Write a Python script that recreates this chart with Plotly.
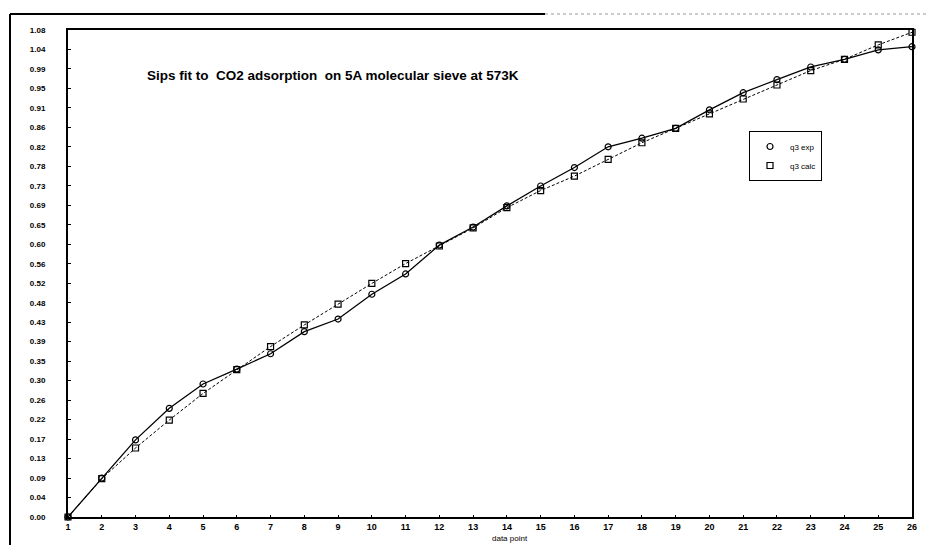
import plotly.graph_objects as go

# ---- data ----
data_point = list(range(1, 27))
q3_exp = [0.000, 0.086, 0.171, 0.241, 0.295, 0.328, 0.362, 0.411, 0.439, 0.494,
          0.539, 0.603, 0.643, 0.690, 0.734, 0.775, 0.821, 0.840, 0.862, 0.903,
          0.941, 0.970, 0.998, 1.015, 1.036, 1.043]
q3_calc = [0.000, 0.085, 0.153, 0.215, 0.274, 0.327, 0.378, 0.426, 0.472, 0.518,
           0.562, 0.601, 0.641, 0.686, 0.724, 0.756, 0.793, 0.830, 0.862, 0.894,
           0.927, 0.958, 0.990, 1.015, 1.047, 1.075]
y_max = 1.08
n_y_intervals = 25
series_names = ["q3 exp", "q3 calc"]
title_text = "Sips fit to  CO2 adsorption  on 5A molecular sieve at 573K"
x_title = "data point"

FONT = "Liberation Sans, Arial, sans-serif"

# page body offset (default html body margin)
OFF = 8
# desired plot area in screen pixels
SX0, SX1, SY0, SY1 = 68, 912, 30, 517
Wf, Hf = 936 - OFF, 545 - OFF
L = SX0 - OFF
R = Wf - (SX1 - OFF)
T = SY0 - OFF
B = Hf - (SY1 - OFF)
pw, ph = SX1 - SX0, SY1 - SY0


def px_x(p):
    return (p - SX0) / pw


def px_y(p):
    return (SY1 - p) / ph


fig = go.Figure()
fig.add_trace(go.Scatter(
    x=data_point, y=q3_exp, name=series_names[0], mode="lines+markers",
    line=dict(color="black", width=1.3),
    marker=dict(symbol="circle-open", size=6, color="black", line=dict(width=1.2)),
    cliponaxis=False, showlegend=False,
))
fig.add_trace(go.Scatter(
    x=data_point, y=q3_calc, name=series_names[1], mode="lines+markers",
    line=dict(color="black", width=1, dash="3px,2px"),
    marker=dict(symbol="square-open", size=6, color="black", line=dict(width=1.2)),
    cliponaxis=False, showlegend=False,
))
# legend entries (markers only, like the reference legend)
fig.add_trace(go.Scatter(
    x=[None], y=[None], name=series_names[0], mode="markers",
    marker=dict(symbol="circle-open", size=6, color="black", line=dict(width=1.2)),
))
fig.add_trace(go.Scatter(
    x=[None], y=[None], name=series_names[1], mode="markers",
    marker=dict(symbol="square-open", size=6, color="black", line=dict(width=1.2)),
))

fig.update_layout(
    width=Wf, height=Hf,
    margin=dict(l=L, r=R, t=T, b=B),
    paper_bgcolor="white", plot_bgcolor="white",
    font=dict(family=FONT, color="black", size=9),
    showlegend=True,
    legend=dict(
        x=px_x(749), y=px_y(131), xanchor="left", yanchor="top",
        bordercolor="black", borderwidth=1, bgcolor="white",
        font=dict(size=8, family=FONT), itemwidth=30, tracegroupgap=0,
    ),
    xaxis=dict(
        range=[1, 26], tickmode="array", tickvals=data_point,
        ticktext=[str(v) for v in data_point],
        showline=True, linecolor="black", linewidth=2, mirror=True,
        showgrid=False, zeroline=False, ticks="inside", ticklen=2,
        tickcolor="black",
        tickfont=dict(size=9, family=FONT, weight="bold"),
    ),
    yaxis=dict(
        range=[0, y_max], tick0=0, dtick=y_max / n_y_intervals, tickformat=".2f",
        showline=True, linecolor="black", linewidth=2, mirror=True,
        showgrid=False, zeroline=False, ticks="inside", ticklen=3,
        tickcolor="black", ticklabelstandoff=19,
        tickfont=dict(size=8, family=FONT, weight="bold"),
    ),
    annotations=[
        dict(text=title_text, xref="paper", yref="paper",
             x=px_x(145), y=px_y(76), xanchor="left", yanchor="middle",
             showarrow=False, font=dict(size=13.5, family=FONT, weight="bold")),
        dict(text=x_title, xref="paper", yref="paper",
             x=px_x(510), y=px_y(538), xanchor="center", yanchor="middle",
             showarrow=False, font=dict(size=8, family=FONT)),
    ],
    shapes=[
        dict(type="line", xref="paper", yref="paper",
             x0=px_x(10), x1=px_x(10), y0=px_y(14), y1=px_y(545),
             line=dict(color="black", width=2)),
        dict(type="line", xref="paper", yref="paper",
             x0=px_x(10), x1=px_x(545), y0=px_y(14), y1=px_y(14),
             line=dict(color="black", width=2)),
        dict(type="line", xref="paper", yref="paper",
             x0=px_x(545), x1=px_x(936), y0=px_y(14), y1=px_y(14),
             line=dict(color="#999999", width=1, dash="dot")),
    ],
)

fig.write_html("out.html")
